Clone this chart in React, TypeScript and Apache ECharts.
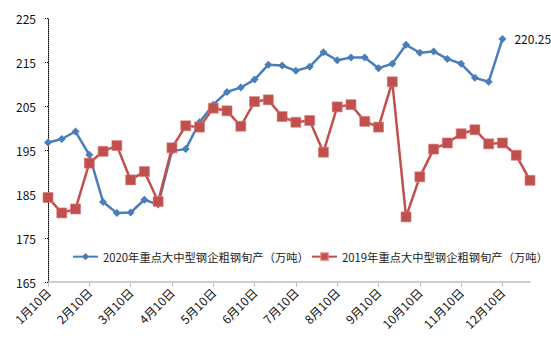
import React, { useEffect, useRef } from "react";
import * as echarts from "echarts";

const categories = [
  "1月10日", "1月20日", "1月31日",
  "2月10日", "2月20日", "2月29日",
  "3月10日", "3月20日", "3月31日",
  "4月10日", "4月20日", "4月30日",
  "5月10日", "5月20日", "5月31日",
  "6月10日", "6月20日", "6月30日",
  "7月10日", "7月20日", "7月31日",
  "8月10日", "8月20日", "8月31日",
  "9月10日", "9月20日", "9月30日",
  "10月10日", "10月20日", "10月31日",
  "11月10日", "11月20日", "11月30日",
  "12月10日", "12月20日", "12月31日",
];

const series2020 = [
  196.7, 197.5, 199.2, 193.9, 183.2, 180.7, 180.8, 183.7, 182.6,
  194.8, 195.2, 201.3, 205.3, 208.2, 209.2, 211.0, 214.4, 214.2,
  213.0, 213.9, 217.2, 215.4, 216.0, 216.0, 213.6, 214.6, 218.9,
  217.1, 217.4, 215.7, 214.6, 211.4, 210.5, 220.25,
];

const series2019 = [
  184.2, 180.7, 181.6, 192.0, 194.7, 196.0, 188.2, 190.1, 183.3,
  195.5, 200.5, 200.2, 204.5, 203.9, 200.4, 206.0, 206.4, 202.6,
  201.3, 201.7, 194.5, 204.8, 205.3, 201.5, 200.2, 210.5, 179.8,
  188.9, 195.2, 196.6, 198.7, 199.6, 196.4, 196.6, 193.8, 188.1,
];

const yMin = 165;
const yMax = 225;
const yStep = 10;

const name2020 = "2020年重点大中型钢企粗钢旬产（万吨）";
const name2019 = "2019年重点大中型钢企粗钢旬产（万吨）";

const FONT = "'Noto Sans CJK SC', 'Noto Sans', sans-serif";

const legendBase = {
  top: 251,
  padding: 0,
  itemWidth: 25,
  itemHeight: 9,
  itemGap: 4,
  textStyle: { fontSize: 11.3, color: "#222", fontFamily: FONT },
};

export default function App() {
  const ref = useRef<HTMLDivElement>(null);
  useEffect(() => {
    if (!ref.current) return;
    const chart = echarts.init(ref.current, null, { renderer: "svg" });
    const last = series2020.length - 1;
    chart.setOption({
      animation: false,
      backgroundColor: "#ffffff",
      textStyle: { fontFamily: FONT },
      grid: { left: 48, right: 21, top: 18, bottom: 80, containLabel: false },
      legend: [
        { ...legendBase, left: 72, data: [name2020] },
        { ...legendBase, left: 311, data: [name2019] },
      ],
      xAxis: {
        type: "category",
        data: categories,
        boundaryGap: false,
        axisLine: { lineStyle: { color: "#bfbfbf", width: 1.5 } },
        axisTick: { show: true, interval: 2, length: 5, lineStyle: { color: "#bfbfbf" } },
        axisLabel: {
          interval: 2,
          rotate: 45,
          fontSize: 12,
          color: "#111",
          margin: 8,
          fontFamily: FONT,
        },
        splitLine: { show: false },
      },
      yAxis: {
        type: "value",
        min: yMin,
        max: yMax,
        interval: yStep,
        axisLine: { show: true, lineStyle: { color: "#000", type: "dotted", width: 1 } },
        axisTick: { show: true, length: 4, lineStyle: { color: "#000", type: "dotted" } },
        axisLabel: { fontSize: 12, color: "#111", margin: 12, fontFamily: FONT },
        splitLine: { show: false },
      },
      series: [
        {
          name: name2020,
          type: "line",
          data: series2020.map((v, i) =>
            i === last
              ? {
                  value: v,
                  label: {
                    show: true,
                    position: "right",
                    distance: 8,
                    formatter: "220.25",
                    fontSize: 12,
                    color: "#111",
                    fontFamily: FONT,
                  },
                }
              : v
          ),
          symbol: "diamond",
          symbolSize: 8,
          showAllSymbol: true,
          lineStyle: { color: "#4a7ebb", width: 2.5 },
          itemStyle: { color: "#4a7ebb" },
          z: 2,
        },
        {
          name: name2019,
          type: "line",
          data: series2019,
          symbol: "rect",
          symbolSize: 10,
          showAllSymbol: true,
          lineStyle: { color: "#c0504d", width: 2.5 },
          itemStyle: { color: "#c0504d", borderColor: "rgba(220,120,120,0.6)", borderWidth: 1 },
          z: 3,
        },
      ],
    });
    return () => chart.dispose();
  }, []);
  return (
    <div
      ref={ref}
      style={{ position: "fixed", left: 0, top: 0, width: 551, height: 362 }}
    />
  );
}
